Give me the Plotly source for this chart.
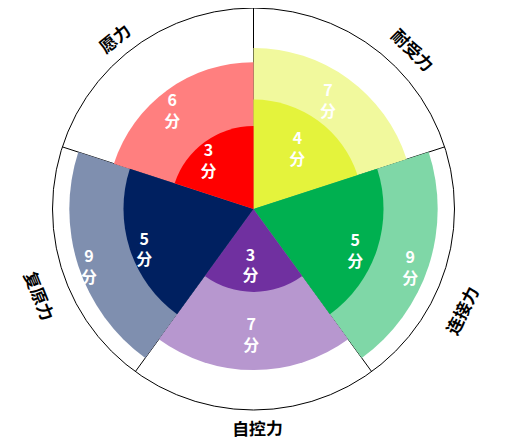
import math

import plotly.graph_objects as go

# Data
categories = ["耐受力", "连接力", "自控力", "复原力", "愿力"]
theta_centers = [36, 108, 180, 252, 324]
inner_scores = [4, 5, 3, 5, 3]
outer_scores = [7, 9, 7, 9, 6]
unit = "分"

inner_colors = ["#E4F33C", "#00B050", "#7030A0", "#002060", "#FF0000"]
outer_colors = ["#F1F99D", "#7FD7A7", "#B797CF", "#7F8FAF", "#FF7F7F"]

# Layout helpers (the page body adds an 8px margin, so positions are shifted back)
W, H = 520, 441
CX, CY, R = 245.5, 201, 201        # polar centre / radius in figure pixels
R_BASE, R_TOP = 1.22, 10.8         # radial range of the log axis (bars start at R_BASE)
SECTOR = 72
FONT = "Noto Sans CJK SC"

# where the score texts sit (theta, radial position in axis units)
outer_text_theta = [35, 111, 181, 250, 320]
outer_text_r = [5.0, 7.55, 4.87, 8.15, 4.8]
inner_text_theta = [37, 113, 183, 249, 316]
inner_text_r = [2.69, 4.05, 2.29, 4.34, 2.46]

# category labels: compass angle and distance from centre in pixels
label_angles = [45, 116, 179, 248, 321]
label_radii = [226, 231, 219, 230, 221]


def tangent_angle(a):
    if a <= 90:
        return a
    if a < 270:
        return a - 180
    return a - 360


fig = go.Figure()

# outer (light) bars first, then inner (dark) bars on top
for scores, colors in ((outer_scores, outer_colors), (inner_scores, inner_colors)):
    fig.add_trace(
        go.Barpolar(
            r=[s - R_BASE for s in scores],
            base=R_BASE,
            theta=theta_centers,
            width=[SECTOR] * len(scores),
            marker=dict(color=colors, line=dict(width=0)),
            hoverinfo="skip",
            showlegend=False,
        )
    )

# score labels inside each bar
for scores, rr, tt in (
    (outer_scores, outer_text_r, outer_text_theta),
    (inner_scores, inner_text_r, inner_text_theta),
):
    fig.add_trace(
        go.Scatterpolar(
            r=rr,
            theta=tt,
            mode="text",
            text=[f"{s}<br>{unit}" for s in scores],
            textfont=dict(family=FONT, size=16, color="white", weight="bold"),
            hoverinfo="skip",
            showlegend=False,
        )
    )

# category labels round the outside
annotations = []
for name, a, rad in zip(categories, label_angles, label_radii):
    x_px = CX + rad * math.sin(math.radians(a))
    y_px = CY - rad * math.cos(math.radians(a))
    annotations.append(
        dict(
            text=name,
            x=x_px / W,
            y=1 - y_px / H,
            xref="paper",
            yref="paper",
            xanchor="center",
            yanchor="middle",
            showarrow=False,
            textangle=tangent_angle(a),
            font=dict(family=FONT, size=17, color="black", weight="bold"),
        )
    )

fig.update_layout(
    width=W,
    height=H,
    margin=dict(l=0, r=0, t=0, b=0),
    paper_bgcolor="white",
    barmode="overlay",
    annotations=annotations,
    polar=dict(
        domain=dict(
            x=[(CX - R) / W, (CX + R) / W],
            y=[max(0, (H - CY - R) / H), min(1, (H - CY + R) / H)],
        ),
        bgcolor="white",
        radialaxis=dict(
            type="log",
            range=[math.log10(R_BASE), math.log10(R_TOP)],
            visible=False,
            showgrid=False,
        ),
        angularaxis=dict(
            rotation=90,
            direction="clockwise",
            tickmode="array",
            tickvals=[0, 72, 144, 216, 288],
            showticklabels=False,
            ticks="",
            showgrid=True,
            gridcolor="black",
            gridwidth=1,
            showline=True,
            linecolor="black",
            linewidth=1,
        ),
    ),
)

fig.write_html("out.html")
